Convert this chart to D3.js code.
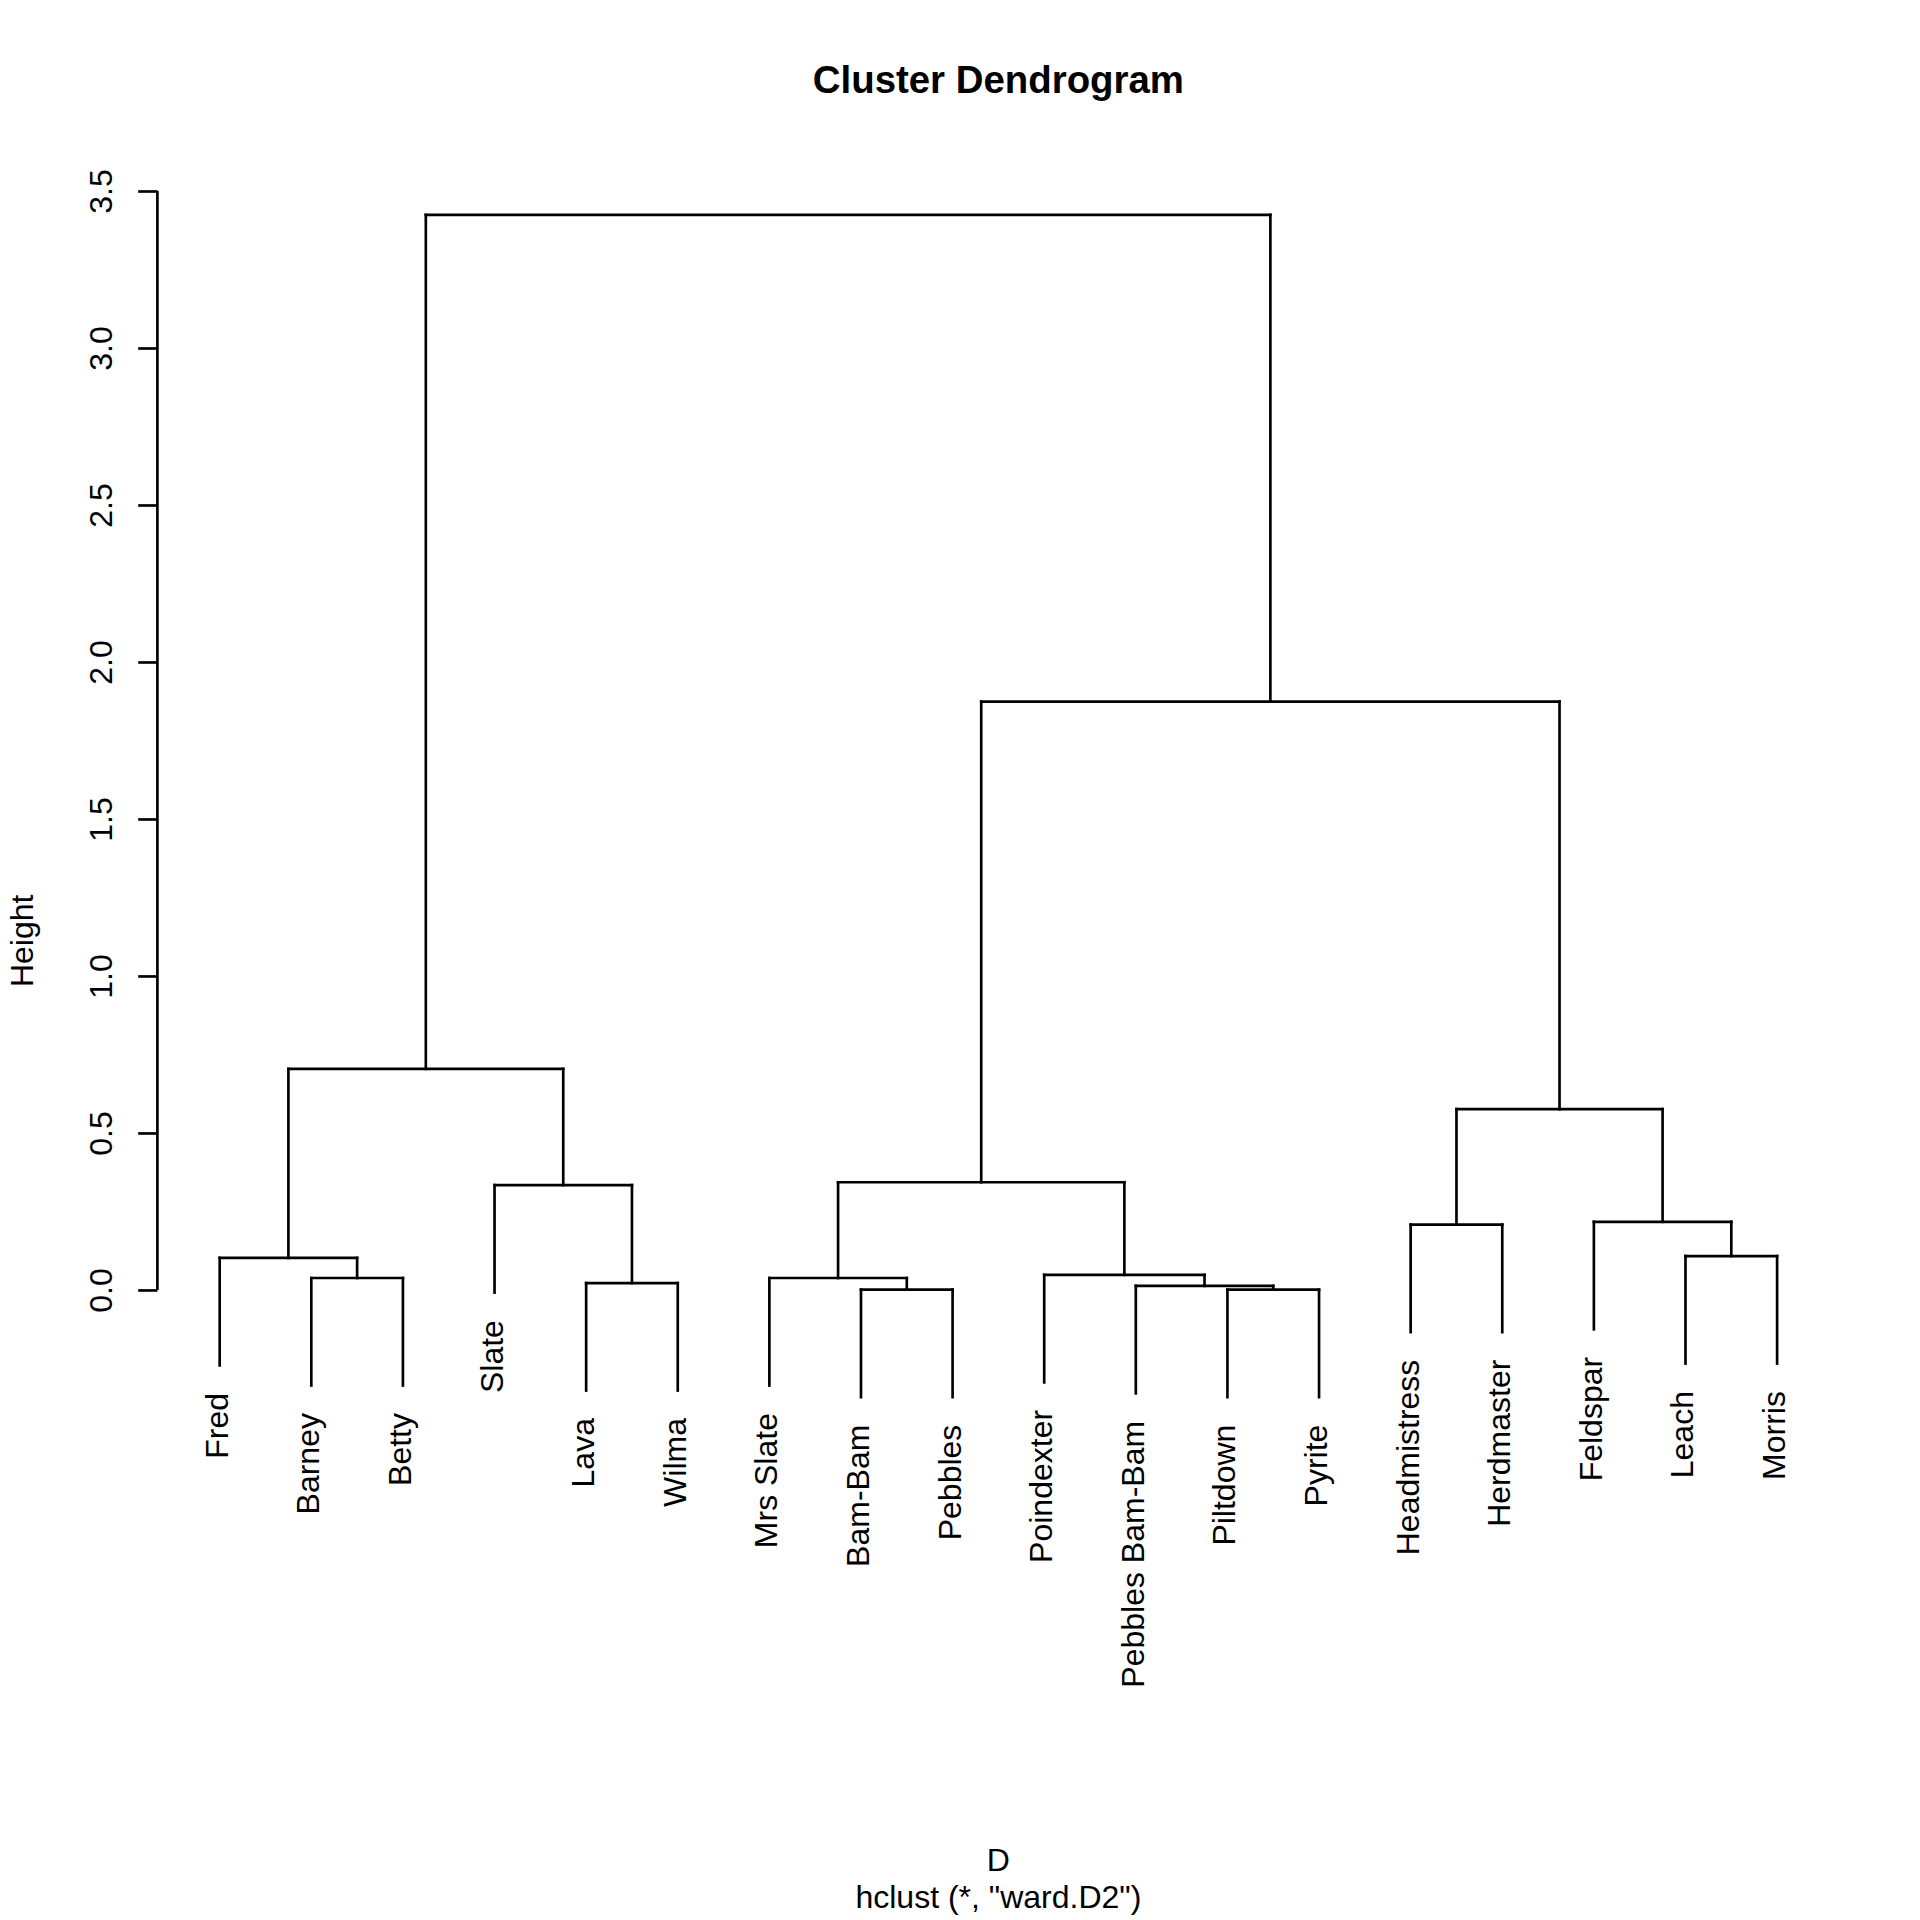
<!DOCTYPE html>
<html>
<head>
<meta charset="utf-8">
<script src="https://cdn.jsdelivr.net/npm/d3@7"></script>
<style>
  html, body { margin: 0; padding: 0; background: #fff; }
  svg { display: block; }
  text { font-family: "Liberation Sans", Arial, sans-serif; fill: #000; }
</style>
</head>
<body>
<svg id="chart" width="1920" height="1920"></svg>
<script>
// ---- data (leaf order as drawn) ----
const leafLabels = ["Fred", "Barney", "Betty", "Slate", "Lava", "Wilma",
  "Mrs Slate", "Bam-Bam", "Pebbles", "Poindexter", "Pebbles Bam-Bam",
  "Piltdown", "Pyrite", "Headmistress", "Herdmaster", "Feldspar", "Leach", "Morris"];
// hclust-style merges: negative = leaf (1-based index into leafLabels), positive = earlier merge step
const mergeLeft  = [-12, -8, -11, -5, -2, -7, -10, -1, -17, -14, -16, -4, 6, 10, 8, 13, 15];
const mergeRight = [-13, -9,   1, -6, -3,  2,   3,  5, -18, -15,   9,  4, 7, 11, 12, 14, 16];
const mergeHeight = [0.001, 0.001, 0.013, 0.022, 0.038, 0.038, 0.048, 0.102, 0.108,
  0.208, 0.217, 0.334, 0.343, 0.576, 0.704, 1.874, 3.424];
const yTicks = [0, 0.5, 1, 1.5, 2, 2.5, 3, 3.5];
const titleText = "Cluster Dendrogram";
const yLabel = "Height";
const xLabel = "D";
const subText = 'hclust (*, "ward.D2")';

// ---- layout ----
const W = 1920, H = 1920;
const plot = { left: 157.4, right: 1839.4, top: 157.4, bottom: 1724.2 };
const lw = 2.67;
const fontPx = 32;

const svg = d3.select("#chart");

const n = leafLabels.length;
const xSpan = n - 1;
const x = d3.scaleLinear()
  .domain([1 - 0.04 * xSpan, n + 0.04 * xSpan])
  .range([plot.left, plot.right]);
const y = d3.scaleLinear()
  .domain([-1.383, 3.607])
  .range([plot.bottom, plot.top]);

const maxH = d3.max(mergeHeight);
const hang = 0.1 * maxH;

// compute node positions
const nodeX = [], nodeH = [];
function childPos(c) {
  if (c < 0) return { x: -c, h: null, leaf: true };
  return { x: nodeX[c - 1], h: nodeH[c - 1], leaf: false };
}
const segs = [];
const leafEnds = {};
for (let i = 0; i < mergeHeight.length; i++) {
  const a = childPos(mergeLeft[i]);
  const b = childPos(mergeRight[i]);
  const h = mergeHeight[i];
  [a, b].forEach(c => {
    const bottom = c.leaf ? h - hang : c.h;
    if (c.leaf) leafEnds[c.x] = bottom;
    segs.push({ x1: c.x, y1: bottom, x2: c.x, y2: h });
  });
  segs.push({ x1: a.x, y1: h, x2: b.x, y2: h });
  nodeX.push((a.x + b.x) / 2);
  nodeH.push(h);
}

const g = svg.append("g");
g.selectAll("line.seg").data(segs).enter().append("line")
  .attr("class", "seg")
  .attr("x1", d => x(d.x1)).attr("x2", d => x(d.x2))
  .attr("y1", d => y(d.y1)).attr("y2", d => y(d.y2))
  .attr("stroke", "#000").attr("stroke-width", lw)
  .attr("stroke-linecap", "square");

// leaf labels
g.selectAll("text.leaf").data(leafLabels).enter().append("text")
  .attr("class", "leaf")
  .attr("transform", (d, i) => `translate(${x(i + 1) + 8},${y(leafEnds[i + 1]) + 27.5}) rotate(-90)`)
  .attr("text-anchor", "end")
  .style("font-size", fontPx + "px")
  .text(d => d);

// y axis
const axis = d3.axisLeft(y).tickValues(yTicks).tickFormat(d3.format(".1f"))
  .tickSizeInner(19.2).tickSizeOuter(0);
const ax = svg.append("g").attr("transform", `translate(${plot.left},0)`).call(axis);
ax.select(".domain").remove();
ax.selectAll(".tick line").attr("stroke", "#000").attr("stroke-width", lw);
ax.selectAll(".tick text")
  .attr("x", null).attr("dy", null).attr("y", null)
  .attr("transform", "translate(-45,0) rotate(-90)")
  .attr("text-anchor", "middle")
  .attr("fill", "#000")
  .style("font-size", fontPx + "px")
  .style("font-family", '"Liberation Sans", Arial, sans-serif');
ax.append("line")
  .attr("x1", 0).attr("x2", 0)
  .attr("y1", y(yTicks[0])).attr("y2", y(yTicks[yTicks.length - 1]))
  .attr("stroke", "#000").attr("stroke-width", lw);

// titles
const cx = (plot.left + plot.right) / 2;
svg.append("text").attr("x", cx).attr("y", 93)
  .attr("text-anchor", "middle").style("font-size", "38.4px").style("font-weight", "bold")
  .text(titleText);
svg.append("text").attr("transform", `translate(33,${(plot.top + plot.bottom) / 2}) rotate(-90)`)
  .attr("text-anchor", "middle").style("font-size", fontPx + "px")
  .text(yLabel);
svg.append("text").attr("x", cx).attr("y", 1871)
  .attr("text-anchor", "middle").style("font-size", fontPx + "px")
  .text(xLabel);
svg.append("text").attr("x", cx).attr("y", 1908)
  .attr("text-anchor", "middle").style("font-size", fontPx + "px")
  .text(subText);
</script>
</body>
</html>
